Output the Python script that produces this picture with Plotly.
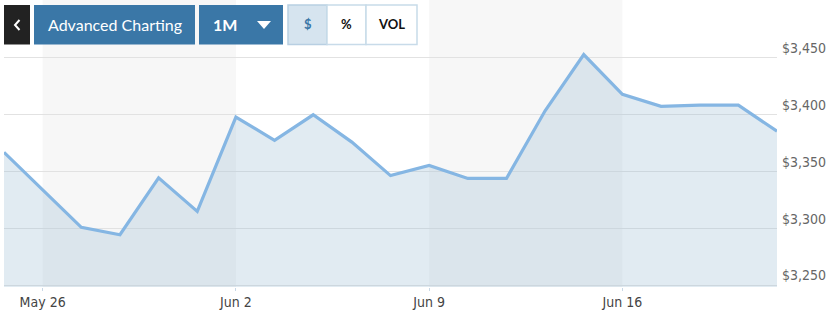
import plotly.graph_objects as go

dates = ["May 23", "May 26", "May 27", "May 28", "May 29", "May 30",
         "Jun 2", "Jun 3", "Jun 4", "Jun 5", "Jun 6",
         "Jun 9", "Jun 10", "Jun 11", "Jun 12", "Jun 13",
         "Jun 16", "Jun 17", "Jun 18", "Jun 19", "Jun 20"]
prices = [3367, 3334, 3301, 3294.5, 3344.5, 3315, 3398, 3377.5, 3400, 3376,
          3346.5, 3355.5, 3344, 3344, 3403.5, 3453, 3418, 3407.5, 3408.5, 3408.5, 3385.5]
tick_labels = ["May 26", "Jun 2", "Jun 9", "Jun 16"]
y_ticks = [3250, 3300, 3350, 3400, 3450]
y_tick_text = ["$3,250", "$3,300", "$3,350", "$3,400", "$3,450"]

x_idx = list(range(len(dates)))
tick_idx = [dates.index(t) for t in tick_labels]

fig = go.Figure()
fig.add_trace(go.Scatter(
    x=x_idx, y=prices, mode="lines",
    line=dict(color="#85b6e3", width=3.2),
    fill="tozeroy", fillcolor="rgba(155,188,212,0.3)",
    hoverinfo="skip", showlegend=False))

shapes = []
# weekly shaded bands
for a, b in [(tick_idx[0], tick_idx[1]), (tick_idx[2], tick_idx[3])]:
    shapes.append(dict(type="rect", xref="x", yref="paper", x0=a, x1=b, y0=0, y1=1,
                       fillcolor="#f7f7f7", line=dict(width=0), layer="below"))

# toolbar (pixel -> paper conversion)
L, R, T, B = 4, 777, 0, 287
def px(x):
    return (x - L) / (R - L)
def py(y):
    return (B - y) / (B - T)

buttons = [
    (4, 30, "#222222", "#222222"),
    (34, 195, "#3a77a7", "#3a77a7"),
    (199, 283, "#3a77a7", "#3a77a7"),
    (288, 327, "#d6e4ef", "#b8cfe2"),
    (327, 366, "#ffffff", "#c8dbe9"),
    (366, 417, "#ffffff", "#c8dbe9"),
]
for x0, x1, fc, lc in buttons:
    shapes.append(dict(type="rect", xref="paper", yref="paper",
                       x0=px(x0), x1=px(x1), y0=py(44.5), y1=py(5),
                       fillcolor=fc, line=dict(color=lc, width=1.5 if fc != lc else 0),
                       layer="above"))
# dropdown triangle
tx, ty = 264, 25
shapes.append(dict(type="path", xref="paper", yref="paper",
                   path=f"M {px(tx-7)} {py(ty-4)} L {px(tx+7)} {py(ty-4)} L {px(tx)} {py(ty+4)} Z",
                   fillcolor="#ffffff", line=dict(width=0), layer="above"))
# back chevron
shapes.append(dict(type="path", xref="paper", yref="paper",
                   path=f"M {px(19.5)} {py(20)} L {px(15)} {py(25)} L {px(19.5)} {py(30)}",
                   line=dict(color="#ffffff", width=2), layer="above"))

annots = []
def lab(x, y, text, color, size, bold=False, family="Lato, 'Open Sans', sans-serif"):
    annots.append(dict(xref="paper", yref="paper", x=px(x), y=py(y), text=f"<b>{text}</b>" if bold else text,
                       showarrow=False, xanchor="center", yanchor="middle",
                       font=dict(color=color, size=size, family=family)))
lab(115, 24.5, "Advanced Charting", "#ffffff", 16)
lab(225, 24.5, "1M", "#ffffff", 16, True)
lab(307.5, 24.5, "$", "#3a77a7", 13, True)
lab(346.5, 24.5, "%", "#111111", 13, True)
lab(391.5, 24.5, "VOL", "#111111", 13, True)

tick_family = "'Liberation Sans Narrow', 'DejaVu Sans Condensed', sans-serif"
fig.update_layout(
    width=836, height=315,
    margin=dict(l=L, r=836 - R, t=T, b=315 - B),
    paper_bgcolor="#ffffff", plot_bgcolor="#ffffff",
    shapes=shapes, annotations=annots,
    xaxis=dict(range=[0, len(dates) - 1], tickvals=tick_idx, ticktext=tick_labels,
               showgrid=False, zeroline=False, showline=False,
               ticks="outside", ticklen=3, tickcolor="#c9d8e6",
               ticklabelstandoff=-1,
               tickfont=dict(family=tick_family, size=14, color="#444444")),
    yaxis=dict(range=[3248.5, 3501], side="right", tickvals=y_ticks, ticktext=y_tick_text,
               showgrid=True, gridcolor="#e2e2e2",
               gridwidth=1, zeroline=False, showline=False, ticks="",
               ticklabelposition="outside top", ticklabelstandoff=4,
               tickfont=dict(family=tick_family, size=14, color="#666666")),
)

fig.write_html("out.html")
